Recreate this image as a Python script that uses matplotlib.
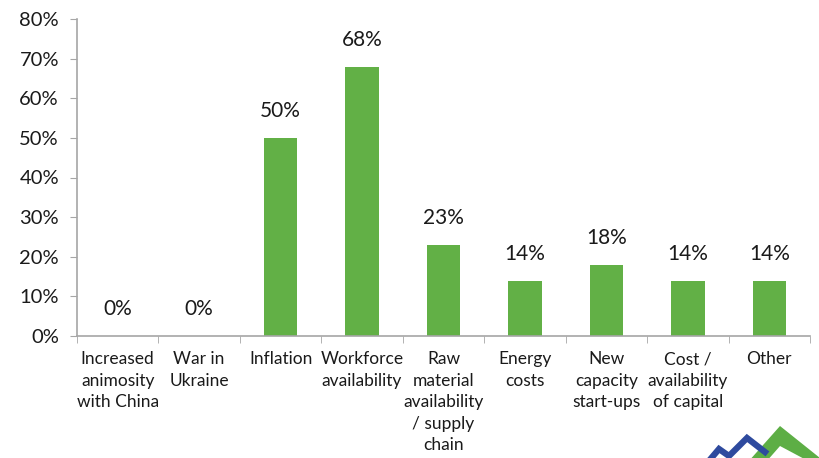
import matplotlib.pyplot as plt
import numpy as np
from matplotlib.patches import Polygon
from matplotlib.lines import Line2D

plt.rcParams['font.family'] = ['Lato', 'DejaVu Sans']

categories = ["Increased\nanimosity\nwith China", "War in\nUkraine", "Inflation",
              "Workforce\navailability", "Raw\nmaterial\navailability\n/ supply\nchain",
              "Energy\ncosts", "New\ncapacity\nstart-ups", "Cost /\navailability\nof capital",
              "Other"]
values = [0, 0, 50, 68, 23, 14, 18, 14, 14]
yticks = [0, 10, 20, 30, 40, 50, 60, 70, 80]

W, H = 819, 458
fig = plt.figure(figsize=(W / 100, H / 100), dpi=100)
# axes box in pixel terms: left 77, right 810, top 19, bottom 336
ax = fig.add_axes([77 / W, 1 - 336 / H, (810 - 77) / W, (336 - 19) / H])

x = np.arange(len(categories))
ax.bar(x, values, width=0.41, color='#62B046')
for xi, v in zip(x, values):
    ax.text(xi, v + 4.2, f"{v}%", ha='center', va='bottom', fontsize=15, color='#1a1a1a')

ax.set_xlim(-0.5, len(categories) - 0.5)
ax.set_ylim(0, 80)
ax.set_yticks(yticks)
ax.set_yticklabels([f"{t}%" for t in yticks], fontsize=14.5, color='#1a1a1a')
ax.tick_params(axis='y', length=5, color='#a6a6a6', pad=8)

# category labels between boundary ticks
ax.set_xticks(x)
ax.set_xticklabels(categories, fontsize=12.5, color='#1a1a1a', linespacing=1.42, va='top')
ax.tick_params(axis='x', length=0, pad=11)
ax.set_xticks(np.arange(len(categories) + 1) - 0.5, minor=True)
ax.tick_params(axis='x', which='minor', length=5, color='#a6a6a6')

for side in ['top', 'right']:
    ax.spines[side].set_visible(False)
for side in ['left', 'bottom']:
    ax.spines[side].set_color('#a6a6a6')
    ax.spines[side].set_linewidth(1.2)

# logo in the lower right corner
def px(pts):
    return [(a / W, 1 - b / H) for a, b in pts]

blue = px([(708, 462), (719, 449), (729, 456), (747, 438), (765, 452)])
fig.add_artist(Line2D([p[0] for p in blue], [p[1] for p in blue],
                      color='#2E4A9E', linewidth=4.5, solid_joinstyle='miter'))
fig.add_artist(Polygon(px([(748, 462), (780, 426), (825, 462), (810, 462), (780, 446), (766, 462)]),
                       closed=True, facecolor='#5DAE45', edgecolor='none'))

fig.savefig('out.png', dpi=100)
